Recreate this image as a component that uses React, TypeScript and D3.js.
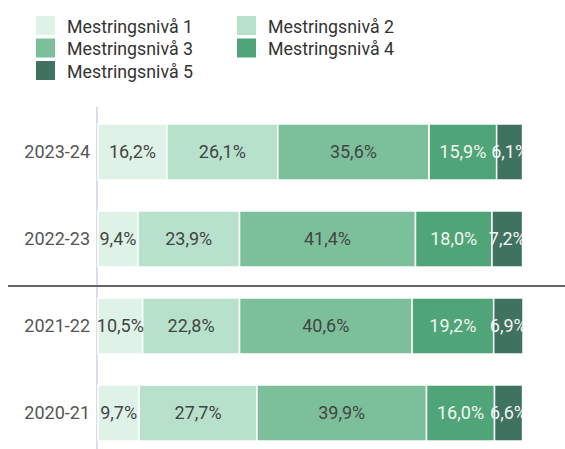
import React, { useRef, useEffect } from "react"
import * as d3 from "d3"

const years = ["2023-24", "2022-23", "2021-22", "2020-21"]
const levels = ["Mestringsnivå 1", "Mestringsnivå 2", "Mestringsnivå 3", "Mestringsnivå 4", "Mestringsnivå 5"]
const level1 = [16.2, 9.4, 10.5, 9.7]
const level2 = [26.1, 23.9, 22.8, 27.7]
const level3 = [35.6, 41.4, 40.6, 39.9]
const level4 = [15.9, 18.0, 19.2, 16.0]
const level5 = [6.1, 7.2, 6.9, 6.6]
const colors = ["#dff2e7", "#b7e1cb", "#7cbf9b", "#4fa577", "#3f725f"]
const textColors = ["#444", "#444", "#444", "#f4f4f4", "#f4f4f4"]

export default function App() {
  const svgRef = useRef<SVGSVGElement>(null)

  useEffect(() => {
    const width = 565
    const height = 449
    const svg = d3.select(svgRef.current)
    svg.selectAll("*").remove()
    const font = "Roboto, 'Noto Sans', sans-serif"

    const rows = years.map((yr, i) => ({
      year: yr,
      values: [level1[i], level2[i], level3[i], level4[i], level5[i]]
    }))

    const x = d3.scaleLinear().domain([0, 100]).range([98, 523])
    const y = d3.scaleBand().domain(years).range([108.5, 456.5])
      .paddingInner(0.356).paddingOuter(0.178)

    // clip labels at the plot area
    svg.append("defs").append("clipPath").attr("id", "plotClip")
      .append("rect").attr("x", x(0)).attr("y", 0)
      .attr("width", x(100) - x(0)).attr("height", height)

    // legend
    const legend = svg.append("g")
    levels.forEach((l, i) => {
      const col = i % 2, row = Math.floor(i / 2)
      const gx = col === 0 ? 36 : 237
      const gy = 16 + row * 22.5
      legend.append("rect").attr("x", gx).attr("y", gy).attr("width", 19).attr("height", 19)
        .attr("fill", colors[i])
      legend.append("text").attr("x", gx + 31).attr("y", gy + 10)
        .attr("dominant-baseline", "central")
        .attr("font-family", font).attr("font-size", 17.8).attr("fill", "#333")
        .text(l)
    })

    // vertical axis line
    svg.append("line")
      .attr("x1", x(0) - 1).attr("x2", x(0) - 1)
      .attr("y1", 107).attr("y2", height)
      .attr("stroke", "#ccd3ea").attr("stroke-width", 1.5)

    const rowG = svg.selectAll(".row").data(rows).enter().append("g")
      .attr("class", "row")
      .attr("transform", d => "translate(0," + y(d.year) + ")")

    rowG.append("text")
      .attr("x", 90).attr("y", y.bandwidth() / 2)
      .attr("text-anchor", "end").attr("dominant-baseline", "central")
      .attr("font-family", font).attr("font-size", 18).attr("fill", "#555")
      .text(d => d.year)

    rowG.each(function (d) {
      const g = d3.select(this)
      const stack = d3.cumsum(d.values)
      const segs = d.values.map((v, i) => ({ v, i, start: stack[i] - v, end: stack[i] }))
      g.selectAll("rect.seg").data(segs).enter().append("rect")
        .attr("class", "seg")
        .attr("x", s => x(s.start))
        .attr("width", s => x(s.end) - x(s.start))
        .attr("y", 0).attr("height", y.bandwidth())
        .attr("fill", s => colors[s.i])
        .attr("stroke", "#fff").attr("stroke-width", 1.5)
      g.append("g").attr("clip-path", "url(#plotClip)")
        .selectAll("text").data(segs).enter().append("text")
        .attr("x", s => (x(s.start) + x(s.end)) / 2)
        .attr("y", y.bandwidth() / 2)
        .attr("text-anchor", "middle").attr("dominant-baseline", "central")
        .attr("font-family", font).attr("font-size", 18).attr("fill", s => textColors[s.i])
        .text(s => s.v.toFixed(1).replace(".", ",") + "%")
    })

    // separator between 2022-23 and 2021-22
    const sepY = (y("2021-22") as number) - 12
    svg.append("line")
      .attr("x1", 8).attr("x2", width)
      .attr("y1", sepY).attr("y2", sepY)
      .attr("stroke", "#666").attr("stroke-width", 2)
  }, [])

  return (
    <svg ref={svgRef} width={565} height={449}
      style={{ position: "absolute", left: 0, top: 0, background: "#fff" }} />
  )
}
